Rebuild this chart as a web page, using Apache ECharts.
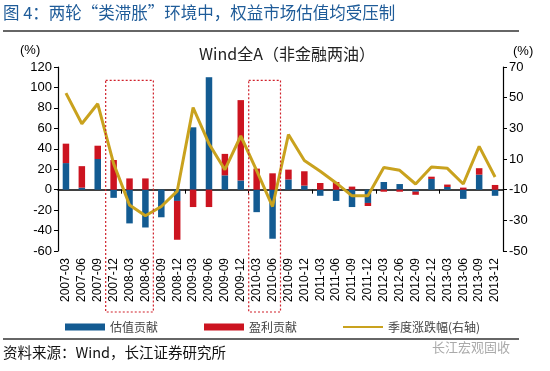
<!DOCTYPE html>
<html>
<head>
<meta charset="utf-8">
<script src="https://cdn.jsdelivr.net/npm/echarts@6/dist/echarts.min.js"></script>
<style>html,body{margin:0;padding:0;background:#fff;}#c{width:550px;height:371px;}</style>
</head>
<body>
<div id="c"></div>
<script>
var categories = ['2007-03','2007-06','2007-09','2007-12','2008-03','2008-06','2008-09','2008-12',
  '2009-03','2009-06','2009-09','2009-12','2010-03','2010-06','2010-09','2010-12',
  '2011-03','2011-06','2011-09','2011-12','2012-03','2012-06','2012-09','2012-12',
  '2013-03','2013-06','2013-09','2013-12'];
var valuationContribution = [26,2,30,-8,-33,-37,-27,-11,61,110,14,9,-22,-48,10,4,-6,-11,-17,-13,7.5,5.5,-2,10.5,2.6,-9,14.7,-6];
var earningsContribution  = [19,21,13,29,11,11,0,-38,-17,-17,21,78.6,20.6,16,9.6,14,6.5,7.5,3,-3,-2,-2,-3,2.2,2.4,2,6.3,4.6];
var quarterlyChange       = [53,33,46,7,-20,-27,-21,-11,43.5,20,3,25,2.4,-21,26,9,2,-5.6,-14,-14,4.5,2.6,-6.3,4.8,3.9,-6.3,18.2,-1.7];
var leftTicks = {min:-60, max:120, interval:20};
var rightTicks = {min:-50, max:70, interval:20};
var highlightPeriods = [['2007-12','2008-06'],['2010-03','2010-06']];

var FONT = "'Liberation Sans','Noto Sans CJK SC',sans-serif";
var CJK = "'Noto Sans CJK SC','Liberation Sans',sans-serif";
var BLUE = '#135B92', RED = '#CC1420', GOLD = '#C9A21E';

var chart = echarts.init(document.getElementById('c'), null, {renderer:'canvas'});
var option = {
  animation:false,
  backgroundColor:'#fff',
  grid:{left:58, right:47, top:67, bottom:120},
  title:{text:'Wind全A（非金融两油）', left:282, top:41, textAlign:'center',
    textStyle:{fontFamily:CJK, fontSize:16, fontWeight:'normal', color:'#222'}},
  legend:{left:60, top:316, itemGap:46, itemWidth:40, itemHeight:7,
    textStyle:{fontFamily:CJK, fontSize:12, color:'#444'},
    data:[{name:'估值贡献', icon:'rect'},{name:'盈利贡献', icon:'rect'},
          {name:'季度涨跌幅(右轴)', icon:'path://M0,0L40,0L40,2L0,2Z'}]},
  xAxis:[{
    type:'category', data:categories, boundaryGap:true,
    axisLine:{onZero:true, lineStyle:{color:'#000', width:1.5}},
    axisTick:{show:true, length:4, lineStyle:{color:'#000'}},
    axisLabel:{show:false}, splitLine:{show:false}
  },{
    type:'category', data:categories, position:'bottom', boundaryGap:true,
    axisLine:{show:false}, axisTick:{show:false},
    axisLabel:{rotate:90, fontFamily:FONT, fontSize:12, color:'#000', margin:7, interval:0}
  }],
  yAxis:[{
    type:'value', min:leftTicks.min, max:leftTicks.max, interval:leftTicks.interval,
    axisLine:{show:true, lineStyle:{color:'#000', width:1.2}},
    axisTick:{show:true, length:4, lineStyle:{color:'#000'}},
    axisLabel:{fontFamily:FONT, fontSize:13, color:'#000', margin:6},
    splitLine:{show:false}
  },{
    type:'value', min:rightTicks.min, max:rightTicks.max, interval:rightTicks.interval,
    position:'right',
    axisLine:{show:true, lineStyle:{color:'#000', width:1.2}},
    axisTick:{show:true, length:4, lineStyle:{color:'#000'}},
    axisLabel:{fontFamily:FONT, fontSize:13, color:'#000', margin:6},
    splitLine:{show:false}
  }],
  series:[
    {name:'估值贡献', type:'bar', stack:'c', barWidth:6.5, xAxisIndex:0, yAxisIndex:0,
      itemStyle:{color:BLUE}, data:valuationContribution},
    {name:'盈利贡献', type:'bar', stack:'c', barWidth:6.5, xAxisIndex:0, yAxisIndex:0,
      itemStyle:{color:RED}, data:earningsContribution},
    {name:'季度涨跌幅(右轴)', type:'line', xAxisIndex:0, yAxisIndex:1, symbol:'none', z:5,
      lineStyle:{color:GOLD, width:3}, itemStyle:{color:GOLD}, data:quarterlyChange}
  ]
};
chart.setOption(option);

// decorations
var g = [
  {type:'text', left:3, top:4, style:{text:'图 4：两轮“类滞胀”环境中，权益市场估值均受压制', fill:'#1F5C99', font:'16.5px '+CJK}},
  {type:'line', shape:{x1:3, y1:31, x2:519, y2:31}, style:{stroke:'#333', lineWidth:1.5}},
  {type:'line', shape:{x1:3, y1:339, x2:519, y2:339}, style:{stroke:'#333', lineWidth:1.5}},
  {type:'text', left:3, top:345, style:{text:'资料来源：Wind，长江证券研究所', fill:'#111', font:'14.5px '+CJK}},
  {type:'text', left:432, top:341, style:{text:'长江宏观固收', fill:'#aaa', font:'13px '+CJK}},
  {type:'text', left:20, top:44, style:{text:'(%)', fill:'#000', font:'13px '+FONT}},
  {type:'text', left:513, top:45, style:{text:'(%)', fill:'#000', font:'13px '+FONT}}
];
var c0 = chart.convertToPixel({xAxisIndex:0}, 0);
var c1 = chart.convertToPixel({xAxisIndex:0}, 1);
var band = c1 - c0;
var yTop = chart.convertToPixel({yAxisIndex:0}, 107);
var yBottom = chart.convertToPixel({yAxisIndex:0}, leftTicks.min) + 61;
highlightPeriods.forEach(function(p){
  var xa = chart.convertToPixel({xAxisIndex:0}, p[0]) - band/2;
  var xb = chart.convertToPixel({xAxisIndex:0}, p[1]) + band/2;
  g.push({type:'rect', z:10, shape:{x:xa, y:yTop, width:xb-xa, height:yBottom-yTop},
    style:{fill:'none', stroke:'#D0202A', lineWidth:1.2, lineDash:[2,2]}});
});
chart.setOption({graphic:g});
</script>
</body>
</html>
